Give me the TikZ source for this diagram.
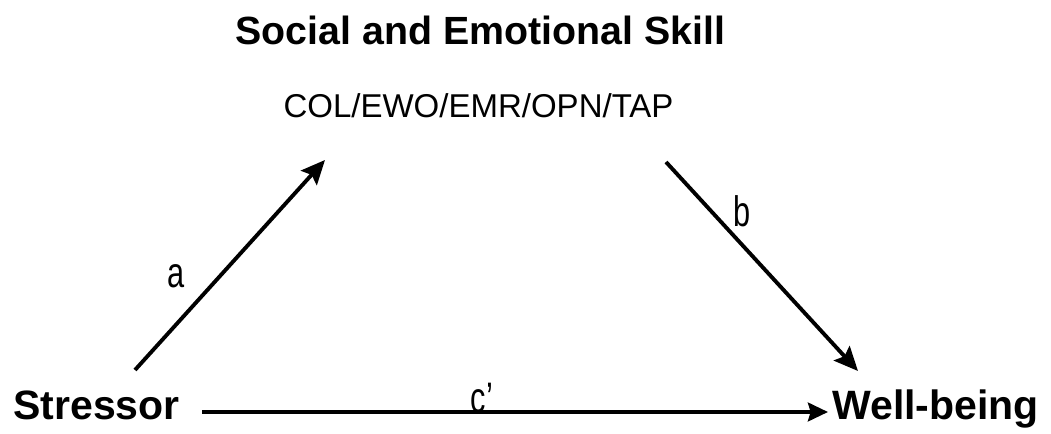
\documentclass[tikz,border=0pt]{standalone}
\usepackage{fontspec}
\setmainfont{Liberation Sans}
\usetikzlibrary{arrows.meta}
\begin{document}
\begin{tikzpicture}[x=0.75pt,y=-0.75pt,
  lbl/.style={inner sep=0pt,anchor=base,font=\fontsize{30.75}{36}\selectfont\bfseries},
  pathlbl/.style={inner sep=0pt,anchor=base,font=\fontsize{32}{38}\selectfont,xscale=0.72},
  conn/.style={line width=2.9pt,-{Stealth[length=18pt,width=16pt,inset=3pt]}}]
\useasboundingbox (0,0) rectangle (1051,434);
\node[inner sep=0pt,anchor=base,font=\fontsize{29.5}{34}\selectfont\bfseries] (title) at (480.5,45) {Social and Emotional Skill};
\node[inner sep=0pt,anchor=base,font=\fontsize{24.75}{30}\selectfont] (sub) at (478.5,118) {COL/EWO/EMR/OPN/TAP};
\node[lbl,anchor=base west] (stress) at (13,420) {Stressor};
\node[lbl,anchor=base west] (well) at (832,420) {Well-being};
\coordinate (a0) at (135,370);
\coordinate (a1) at (325,160);
\coordinate (b0) at (666,162);
\coordinate (b1) at (858,371);
\coordinate (c0) at (202,412);
\coordinate (c1) at (828,412);
\draw[conn] (a0) -- (a1);
\draw[conn] (b0) -- (b1);
\draw[conn,-{Stealth[length=15pt,width=14pt,inset=2pt]}] (c0) -- (c1);
\node[pathlbl] (la) at (176,288) {a};
\node[pathlbl] (lb) at (742,227) {b};
\node[pathlbl] (lc) at (482,413) {c\textquoteright};
\end{tikzpicture}
\end{document}
